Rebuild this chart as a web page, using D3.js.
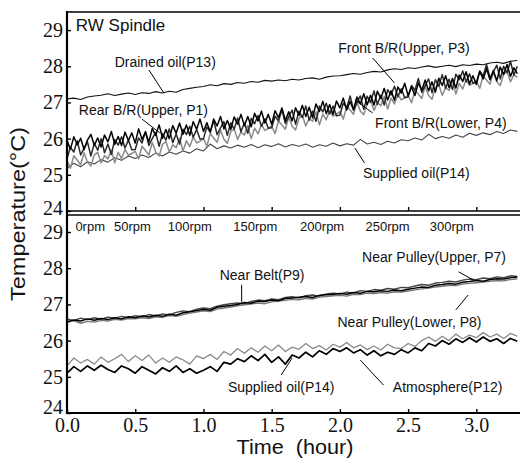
<!DOCTYPE html>
<html>
<head>
<meta charset="utf-8">
<script src="https://cdn.jsdelivr.net/npm/d3@7"></script>
<style>
body { margin: 0; background: #fff; }
</style>
</head>
<body>
<div id="chart"></div>
<script>
// sampling steps (hours between readings)
var FINE = 0.025, COARSE = 0.05;

var SANS = "'Liberation Sans', Arial, sans-serif";
var SERIF = "'Liberation Serif', 'Times New Roman', serif";

// ---- upper panel: RW spindle ----
var drainedOilP13 = [27.10,27.12,27.08,27.15,27.18,27.20,27.24,27.19,27.23,27.26,27.22,27.27,27.25,27.30,27.26,
  27.31,27.28,27.36,27.39,27.42,27.44,27.49,27.46,27.52,27.50,27.55,27.53,27.58,27.56,27.61,27.59,27.62,27.60,27.64,27.62,
  27.66,27.68,27.64,27.70,27.73,27.74,27.77,27.80,27.78,27.83,27.86,27.84,27.90,27.93,27.91,27.96,27.94,27.98,28.01,27.97,
  28.00,28.03,27.99,28.04,28.02,28.06,28.04,28.09,28.11,28.08,28.14,28.16];

var rearUpperP1 = [25.95,25.71,26.05,25.83,26.01,25.70,25.96,26.12,25.81,26.02,25.77,26.10,25.91,26.20,25.84,26.06,25.81,26.18,25.95,26.16,
  25.88,26.27,25.98,26.18,25.91,26.28,26.09,26.38,26.01,26.25,26.00,26.36,26.15,26.43,26.12,26.38,26.09,26.47,26.26,26.54,
  26.20,26.44,26.18,26.54,26.35,26.61,26.27,26.50,26.25,26.60,26.40,26.67,26.36,26.61,26.33,26.70,26.49,26.76,26.43,26.67,
  26.40,26.77,26.58,26.85,26.50,26.74,26.49,26.85,26.64,26.92,26.61,26.87,26.58,26.96,26.75,27.03,26.69,26.94,26.67,27.04,
  26.85,27.12,26.79,27.03,26.79,27.15,26.96,27.24,26.94,27.20,26.93,27.31,27.11,27.39,27.07,27.32,27.06,27.43,27.26,27.53,
  27.19,27.43,27.19,27.54,27.34,27.62,27.32,27.57,27.29,27.67,27.47,27.74,27.41,27.66,27.40,27.76,27.58,27.85,27.51,27.74,
  27.50,27.86,27.65,27.93,27.63,27.88,27.60,27.98,27.77,28.05,27.72,27.96,27.80];

var frontUpperP3 = [25.45,25.76,25.63,25.94,25.55,25.73,25.91,25.52,25.87,25.68,26.00,25.61,25.85,25.56,25.98,25.82,26.05,25.74,25.96,25.69,
  25.70,26.02,25.88,26.20,25.81,26.00,26.17,25.79,26.14,25.96,26.27,25.89,26.13,25.85,26.26,26.11,26.34,26.04,26.25,25.99,
  26.00,26.32,26.18,26.50,26.11,26.30,26.47,26.09,26.44,26.26,26.57,26.19,26.43,26.15,26.56,26.41,26.64,26.34,26.55,26.29,
  26.30,26.62,26.49,26.80,26.42,26.61,26.79,26.40,26.76,26.58,26.90,26.51,26.76,26.48,26.90,26.74,26.98,26.68,26.90,26.63,
  26.65,26.98,26.85,27.18,26.80,27.00,27.18,26.81,27.17,27.00,27.32,26.95,27.20,26.93,27.35,27.21,27.45,27.16,27.38,27.13,
  27.15,27.47,27.34,27.66,27.28,27.47,27.65,27.27,27.63,27.45,27.77,27.39,27.64,27.36,27.78,27.63,27.87,27.57,27.79,27.53,
  27.55,27.87,27.73,28.05,27.67,27.85,28.03,27.65,28.00,27.82,28.14,27.75,28.00];

var frontLowerP4 = [25.40,25.18,25.53,25.41,25.28,25.61,25.35,25.24,25.55,25.62,25.33,25.53,25.44,25.69,25.33,25.62,25.45,25.70,25.54,25.59,
  25.65,25.44,25.79,25.67,25.55,25.89,25.63,25.52,25.84,25.92,25.63,25.83,25.75,26.01,25.65,25.94,25.78,26.04,25.88,25.93,
  26.00,25.79,26.14,26.02,25.90,26.24,25.98,25.87,26.19,26.27,25.98,26.18,26.10,26.36,26.00,26.29,26.13,26.39,26.23,26.28,
  26.35,26.14,26.49,26.38,26.26,26.60,26.34,26.24,26.56,26.64,26.35,26.56,26.48,26.74,26.38,26.68,26.52,26.78,26.62,26.68,
  26.75,26.54,26.90,26.79,26.67,27.01,26.76,26.66,26.98,27.06,26.78,26.99,26.91,27.17,26.82,27.12,26.96,27.22,27.07,27.13,
  27.20,26.99,27.34,27.23,27.11,27.45,27.19,27.09,27.41,27.49,27.20,27.41,27.33,27.59,27.23,27.53,27.37,27.63,27.47,27.53,
  27.60,27.39,27.73,27.62,27.50,27.83,27.57,27.47,27.78,27.86,27.57,27.77,27.69];

var suppliedOilTopP14 = [25.18,25.32,25.22,25.36,25.30,25.42,25.35,25.47,25.40,25.52,25.45,25.55,25.48,25.60,25.52,
  25.63,25.57,25.66,25.60,25.72,25.66,25.85,25.72,25.80,25.74,25.82,25.76,25.84,25.75,25.83,25.78,25.86,25.77,25.84,25.79,
  25.85,25.76,25.83,25.79,25.88,25.80,25.86,25.82,25.98,25.85,25.90,25.84,25.93,25.88,25.97,25.94,26.02,25.96,26.12,26.00,
  26.06,26.01,26.10,26.04,26.15,26.09,26.16,26.11,26.20,26.14,26.24,26.20];

// ---- lower panel ----
var nearBeltP9 = [26.52,26.57,26.54,26.60,26.56,26.61,26.58,26.63,26.60,26.66,26.63,26.68,26.65,26.70,26.67,
  26.73,26.70,26.77,26.80,26.83,26.86,26.84,26.92,26.95,26.97,27.00,27.05,27.03,27.09,27.08,27.12,27.10,27.16,27.18,27.20,
  27.22,27.19,27.25,27.27,27.28,27.30,27.28,27.33,27.31,27.36,27.35,27.38,27.36,27.40,27.38,27.42,27.45,27.48,27.47,27.53,
  27.55,27.58,27.56,27.61,27.63,27.66,27.64,27.69,27.71,27.70,27.74,27.76];

var pulleyUpperP7 = [26.60,26.55,26.62,26.58,26.63,26.59,26.65,26.62,26.67,26.63,26.69,26.66,26.72,26.68,26.74,
  26.71,26.78,26.82,26.80,26.87,26.90,26.88,26.95,26.99,27.02,27.04,27.02,27.08,27.12,27.10,27.15,27.13,27.19,27.21,27.18,
  27.24,27.26,27.23,27.29,27.31,27.29,27.34,27.32,27.38,27.36,27.41,27.39,27.44,27.42,27.47,27.46,27.51,27.55,27.53,27.59,
  27.61,27.64,27.62,27.67,27.70,27.68,27.73,27.71,27.76,27.74,27.79,27.77];

var pulleyLowerP8 = [26.50,26.55,26.48,26.53,26.51,26.56,26.54,26.59,26.57,26.61,26.60,26.63,26.61,26.66,26.64,
  26.69,26.67,26.72,26.76,26.79,26.82,26.80,26.87,26.90,26.93,26.96,26.99,27.01,27.04,27.02,27.07,27.09,27.11,27.14,27.13,
  27.17,27.15,27.20,27.22,27.24,27.25,27.23,27.28,27.27,27.31,27.30,27.33,27.31,27.35,27.34,27.37,27.40,27.43,27.45,27.48,
  27.50,27.53,27.52,27.56,27.58,27.60,27.62,27.64,27.66,27.65,27.69,27.71];

var suppliedOilBotP14 = [25.30,25.52,25.38,25.48,25.35,25.55,25.40,25.50,25.62,25.42,25.58,25.45,25.60,25.38,25.52,
  25.40,25.55,25.47,25.35,25.58,25.50,25.62,25.48,25.70,25.60,25.78,25.65,25.80,25.68,25.85,25.72,25.88,25.70,25.82,25.76,
  25.92,25.78,25.86,25.74,25.90,25.82,25.95,25.80,25.88,25.75,25.85,25.74,25.90,25.80,25.78,25.92,25.84,26.00,26.10,25.98,
  26.12,26.00,26.18,26.05,26.15,26.08,26.22,26.10,26.18,26.06,26.20,26.12];

var atmosphereP12 = [25.10,25.28,25.15,25.30,25.18,25.32,25.20,25.12,25.30,25.22,25.10,25.28,25.18,25.08,25.25,
  25.15,25.30,25.12,25.22,25.10,25.18,25.28,25.15,25.40,25.35,25.50,25.42,25.58,25.45,25.62,25.40,25.55,25.35,25.60,25.52,
  25.68,25.55,25.72,25.62,25.78,25.70,25.80,25.66,25.75,25.60,25.72,25.58,25.68,25.62,25.75,25.66,25.80,25.72,25.92,25.85,
  26.00,25.90,26.05,25.95,26.08,25.96,26.10,25.98,26.05,25.92,26.06,25.98];

// spindle speed stages, label centre in hours
var rpmLabels = ["0rpm", "50rpm", "100rpm", "150rpm", "200rpm", "250rpm", "300rpm"];
var rpmAt = [0.17, 0.48, 0.90, 1.38, 1.87, 2.35, 2.82];

var timeTicks = [0, 0.5, 1.0, 1.5, 2.0, 2.5, 3.0];
var tempTicks = [24, 25, 26, 27, 28, 29];

var W = 520, H = 461;
var svg = d3.select("#chart").append("svg").attr("width", W).attr("height", H)
    .style("font-family", SANS);

var x = d3.scaleLinear().domain([0, 3.32]).range([67, 520]);
var yTop = d3.scaleLinear().domain([24, 29.5]).range([211, 12]);
var yBot = d3.scaleLinear().domain([24, 29.47]).range([413, 215]);

function panel(id, y) {
    var r = y.range();
    svg.append("clipPath").attr("id", id)
        .append("rect").attr("x", x(0)).attr("y", r[1]).attr("width", W - x(0)).attr("height", r[0] - r[1]);
    return svg.append("g").attr("clip-path", "url(#" + id + ")");
}

function series(g, y, vals, step, color, width) {
    var line = d3.line()
        .x(function(d, i) { return x(i * step); })
        .y(function(d) { return y(d); });
    g.append("path").datum(vals)
        .attr("d", line)
        .attr("fill", "none")
        .attr("stroke", color)
        .attr("stroke-width", width)
        .attr("stroke-linejoin", "round");
}

var gt = panel("clipTop", yTop);
series(gt, yTop, suppliedOilTopP14, COARSE, "#444", 1.1);
series(gt, yTop, frontLowerP4, FINE, "#8a8a8a", 1.5);
series(gt, yTop, frontUpperP3, FINE, "#2a2a2a", 1.5);
series(gt, yTop, rearUpperP1, FINE, "#000", 1.5);
series(gt, yTop, drainedOilP13, COARSE, "#111", 1.1);

var gb = panel("clipBot", yBot);
series(gb, yBot, suppliedOilBotP14, COARSE, "#8a8a8a", 1.3);
series(gb, yBot, atmosphereP12, COARSE, "#000", 1.7);
series(gb, yBot, pulleyLowerP8, COARSE, "#777", 1.4);
series(gb, yBot, pulleyUpperP7, COARSE, "#444", 1.4);
series(gb, yBot, nearBeltP9, COARSE, "#000", 1.5);

// frame lines
function hline(yv, w) {
    svg.append("line").attr("x1", x(0)).attr("x2", W).attr("y1", yv).attr("y2", yv)
        .attr("stroke", "#000").attr("stroke-width", w);
}
hline(yTop.range()[1], 1.6);
hline(yTop.range()[0], 1.6);
hline(yBot.range()[1], 1.4);
hline(yBot.range()[0], 2);
svg.append("line").attr("x1", x(0)).attr("x2", x(0)).attr("y1", yTop.range()[1] - 1).attr("y2", yBot.range()[0] + 1)
    .attr("stroke", "#000").attr("stroke-width", 2.2);

// axes
function yAxis(y, lowDy) {
    var a = svg.append("g").attr("transform", "translate(" + x(0) + ",0)")
        .call(d3.axisLeft(y).tickValues(tempTicks).tickSizeInner(-4).tickSizeOuter(0).tickPadding(4).tickFormat(d3.format("d")));
    a.select(".domain").remove();
    a.attr("font-family", SERIF);
    a.selectAll("text").attr("font-family", SERIF).style("font-family", SERIF)
        .attr("font-size", 20).attr("fill", "#111")
        .attr("dy", function(d) { return d === 24 ? lowDy : "0.32em"; });
    a.selectAll("line").attr("stroke-width", 1.4);
}
yAxis(yTop, "0.15em");
yAxis(yBot, "0em");

var xa1 = svg.append("g").attr("transform", "translate(0," + yTop.range()[0] + ")")
    .call(d3.axisBottom(x).tickValues(timeTicks.slice(1)).tickSizeInner(-4).tickSizeOuter(0).tickFormat(""));
xa1.select(".domain").remove();
xa1.selectAll("line").attr("stroke-width", 1.4);

var xa2 = svg.append("g").attr("transform", "translate(0," + yBot.range()[0] + ")")
    .call(d3.axisBottom(x).tickValues(timeTicks).tickSizeInner(-4).tickSizeOuter(0).tickPadding(6).tickFormat(d3.format(".1f")));
xa2.select(".domain").remove();
xa2.attr("font-family", SERIF);
xa2.selectAll("text").attr("font-family", SERIF).style("font-family", SERIF)
    .attr("font-size", 20).attr("fill", "#111").attr("dy", "0.66em");
xa2.selectAll("line").attr("stroke-width", 1.4);

// rpm labels
svg.append("g").selectAll("text").data(rpmLabels).enter().append("text")
    .attr("x", function(d, i) { return x(rpmAt[i]); })
    .attr("y", 231)
    .attr("text-anchor", "middle")
    .attr("font-size", 13)
    .attr("fill", "#111")
    .text(function(d) { return d; });

// annotation text with a leader line (leader given as [hour, temp, hour, temp])
function note(y, txt, t, v, lead) {
    svg.append("text").attr("x", x(t)).attr("y", y(v))
        .attr("text-anchor", "middle").attr("font-size", 14).attr("fill", "#111").text(txt);
    svg.append("line")
        .attr("x1", x(lead[0])).attr("y1", y(lead[1]))
        .attr("x2", x(lead[2])).attr("y2", y(lead[3]))
        .attr("stroke", "#000").attr("stroke-width", 1);
}

svg.append("text").attr("x", x(0.065)).attr("y", yTop(28.97)).attr("font-size", 17).attr("fill", "#111").text("RW Spindle");
note(yTop, "Drained oil(P13)", 0.72, 27.98, [0.60, 27.9, 0.71, 27.26]);
note(yTop, "Rear B/R(Upper, P1)", 0.56, 26.65, [0.55, 26.54, 0.68, 26.16]);
note(yTop, "Front B/R(Upper, P3)", 2.47, 28.37, [2.24, 28.23, 2.40, 27.54]);
note(yTop, "Front B/R(Lower, P4)", 2.74, 26.3, [2.24, 26.71, 2.11, 27.07]);
note(yTop, "Supplied oil(P14)", 2.56, 24.91, [2.18, 25.33, 2.11, 25.74]);

note(yBot, "Near Belt(P9)", 1.43, 27.67, [1.28, 27.54, 1.28, 27.07]);
note(yBot, "Near Pulley(Upper, P7)", 2.69, 28.17, [2.87, 27.9, 2.98, 27.67]);
note(yBot, "Near Pulley(Lower, P8)", 2.51, 26.38, [2.85, 26.85, 2.94, 27.26]);
note(yBot, "Supplied oil(P14)", 1.57, 24.58, [1.57, 25.05, 1.65, 25.52]);
note(yBot, "Atmosphere(P12)", 2.79, 24.58, [2.32, 24.77, 2.15, 25.46]);

// axis titles
svg.append("text")
    .attr("transform", "translate(25,214) rotate(-90)")
    .attr("text-anchor", "middle")
    .attr("font-size", 20)
    .attr("fill", "#111")
    .attr("textLength", 174).attr("lengthAdjust", "spacingAndGlyphs")
    .text("Temperature(\u00B0C)");

svg.append("text")
    .attr("x", 295).attr("y", 454)
    .attr("text-anchor", "middle")
    .attr("font-size", 20)
    .attr("fill", "#111")
    .attr("textLength", 117).attr("lengthAdjust", "spacingAndGlyphs")
    .attr("xml:space", "preserve")
    .text("Time  (hour)");
</script>
</body>
</html>
